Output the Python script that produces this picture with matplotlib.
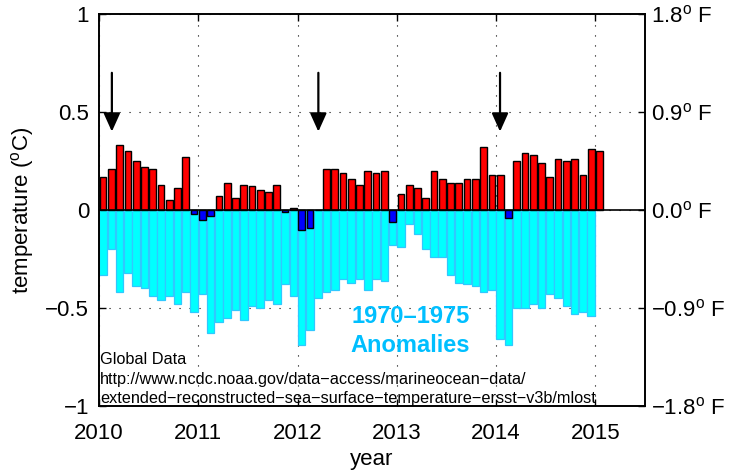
import matplotlib
matplotlib.use("Agg")
import matplotlib.pyplot as plt
import numpy as np

plt.rcParams['font.family'] = ['Liberation Sans', 'DejaVu Sans']
plt.rcParams['mathtext.fontset'] = 'custom'
plt.rcParams['mathtext.rm'] = 'Liberation Sans'

# monthly anomalies, Jan 2010 .. Jan 2015 (relative to recent base)
anom_recent = [0.17, 0.21, 0.33, 0.30, 0.25, 0.22, 0.21, 0.13, 0.05, 0.11, 0.27, -0.02,
               -0.05, -0.03, 0.07, 0.14, 0.06, 0.13, 0.12, 0.10, 0.09, 0.13, -0.01, 0.01,
               -0.10, -0.09, 0.00, 0.21, 0.21, 0.19, 0.16, 0.13, 0.20, 0.19, 0.20, -0.06,
               0.08, 0.13, 0.11, 0.06, 0.20, 0.16, 0.14, 0.14, 0.16, 0.16, 0.32, 0.18,
               0.18, -0.04, 0.25, 0.29, 0.28, 0.24, 0.17, 0.26, 0.25, 0.26, 0.18, 0.31,
               0.30]

# monthly anomalies, Jan 2010 .. Dec 2014 (1970-1975 base)
anom_1970 = [-0.33, -0.20, -0.42, -0.32, -0.39, -0.40, -0.44, -0.46, -0.44, -0.48, -0.42, -0.52,
             -0.43, -0.63, -0.57, -0.55, -0.51, -0.56, -0.49, -0.50, -0.46, -0.48, -0.38, -0.44,
             -0.69, -0.61, -0.45, -0.42, -0.41, -0.35, -0.37, -0.35, -0.41, -0.35, -0.36, -0.18,
             -0.19, -0.07, -0.12, -0.20, -0.24, -0.24, -0.33, -0.37, -0.38, -0.39, -0.42, -0.41,
             -0.66, -0.69, -0.50, -0.50, -0.48, -0.50, -0.43, -0.45, -0.49, -0.53, -0.52, -0.54]

start_year = 2010
arrow_years = [2010.13, 2012.21, 2014.04]
arrow_from, arrow_to = 0.70, 0.40

xticks = [2010, 2011, 2012, 2013, 2014, 2015]
yticks = [-1, -0.5, 0, 0.5, 1]
ytick_labels = ['\u22121', '\u22120.5', '0', '0.5', '1']
fticks = [-1.8, -0.9, 0.0, 0.9, 1.8]
ftick_labels = ['\u22121.8$^\\mathrm{o}$ F', '\u22120.9$^\\mathrm{o}$ F', '0.0$^\\mathrm{o}$ F',
                '0.9$^\\mathrm{o}$ F', '1.8$^\\mathrm{o}$ F']

source_lines = ["Global Data",
                "http://www.ncdc.noaa.gov/data\u2212access/marineocean\u2212data/",
                "extended\u2212reconstructed\u2212sea\u2212surface\u2212temperature\u2212ersst\u2212v3b/mlost"]
source_y = [-0.784, -0.886, -0.983]

x_recent = start_year + (np.arange(len(anom_recent)) + 0.5) / 12
x_1970 = start_year + (np.arange(len(anom_1970)) + 0.5) / 12

fig = plt.figure(figsize=(7.32, 4.72), dpi=100)
ax = fig.add_axes([0.1352, 0.1398, 0.7459, 0.8305])

# 1970-1975 anomalies
ax.bar(x_1970, anom_1970, width=0.92 / 12, color='#00ffff', edgecolor='#30c8ff', linewidth=0.9, zorder=2)

# recent anomalies, red above, blue below
cols = ['red' if v >= 0 else 'blue' for v in anom_recent]
ax.bar(x_recent, anom_recent, width=0.82 / 12, color=cols, edgecolor='k', linewidth=1.0, zorder=3)

ax.axhline(0, color='k', lw=1.2, zorder=4)

for xa in arrow_years:
    ax.annotate('', xy=(xa, arrow_to), xytext=(xa, arrow_from),
                arrowprops=dict(arrowstyle='-|>,head_length=0.8,head_width=0.36',
                                mutation_scale=14, color='k', lw=1.6,
                                shrinkA=0, shrinkB=0), zorder=5)

ax.text(2013.135, -0.575, '1970\u20131975', color='#00bfff', fontsize=17, fontweight='bold',
        ha='center', va='baseline')
ax.text(2013.135, -0.723, 'Anomalies', color='#00bfff', fontsize=17, fontweight='bold',
        ha='center', va='baseline')

for line, yy in zip(source_lines, source_y):
    ax.text(2010.01, yy, line, fontsize=11.7, ha='left', va='baseline', zorder=6)

ax.set_xlim(2010, 2015.5)
ax.set_ylim(-1, 1)
ax.set_xticks(xticks)
ax.set_xticklabels([str(t) for t in xticks])
ax.set_yticks(yticks)
ax.set_yticklabels(ytick_labels)
ax.grid(True, linestyle=(0, (1, 8)), color='k', lw=0.8)
ax.set_axisbelow(True)
ax.tick_params(direction='in', length=5, width=1, labelsize=16, right=False, top=True)
ax.tick_params(axis='x', pad=12)
ax.tick_params(axis='y', pad=7)
ax.set_xlabel('year', fontsize=16, labelpad=4)
ax.set_ylabel('temperature ($^\\mathrm{o}$C)', fontsize=16, labelpad=7)
for s in ax.spines.values():
    s.set_linewidth(1.2)

ax2 = ax.twinx()
ax2.set_ylim(-1.8, 1.8)
ax2.set_yticks(fticks)
ax2.set_yticklabels(ftick_labels)
ax2.tick_params(direction='in', length=5, width=1, labelsize=16, pad=4)
for s in ax2.spines.values():
    s.set_linewidth(1.2)

fig.savefig('out.png', dpi=100)
